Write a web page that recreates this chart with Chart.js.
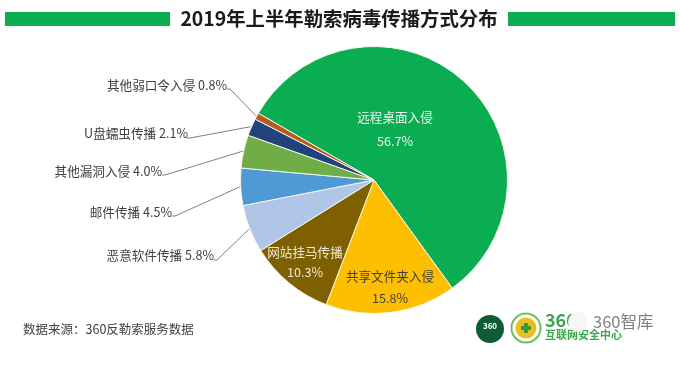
<!DOCTYPE html>
<html><head><meta charset="utf-8">
<script src="https://cdn.jsdelivr.net/npm/chart.js@4"></script>
<style>html,body{margin:0;padding:0;background:#fff}#w{width:680px;height:381px}canvas{display:block;filter:blur(0.4px)}</style>
</head><body><div id="w"><canvas id="c" width="680" height="381"></canvas></div>
<script>
const categories=['远程桌面入侵','共享文件夹入侵','网站挂马传播','恶意软件传播','邮件传播','其他漏洞入侵','U盘蠕虫传播','其他弱口令入侵'];
const shares=[56.7,15.8,10.3,5.8,4.5,4.0,2.1,0.8];
const colors=['#0bad52','#fdbf00','#7f6000','#b0c6e6','#4f9ad6','#70ad47','#22427c','#b85a1e'];
const titleText='2019年上半年勒索病毒传播方式分布';
const sourceText='数据来源：360反勒索服务数据';
const FONT='"Noto Sans CJK SC","Noto Sans",sans-serif';
// label anchors: [textRightX, textY, elbowX, elbowY]
const outside={7:[227,85,230,89],6:[188,133,190,138],5:[162,171,165,175],4:[172,212,175,216],3:[214,255,217,260]};
const inside={0:[395,117,141],1:[390,276,298],2:[305,252,272]};
const deco={id:'deco',
 afterDatasetsDraw(ch){
  const c=ch.ctx,meta=ch.getDatasetMeta(0);
  c.save();
  c.fillStyle='#0bad52';c.fillRect(5,12,165,14);c.fillRect(508,12,167,14);
  c.fillStyle='#1a1a1a';c.font='bold 19.4px '+FONT;c.textAlign='center';c.textBaseline='middle';
  c.fillText(titleText,339,19);
  c.font='12.6px '+FONT;
  categories.forEach((n,i)=>{
   const a=meta.data[i],p=a.getProps(['x','y','startAngle','endAngle','outerRadius']);
   const label=shares[i].toFixed(1)+'%';
   if(outside[i]){
    const o=outside[i],m=(p.startAngle+p.endAngle)/2;
    c.strokeStyle='#7f7f7f';c.lineWidth=1;c.beginPath();
    c.moveTo(p.x+Math.cos(m)*(p.outerRadius+1),p.y+Math.sin(m)*(p.outerRadius+1));
    c.lineTo(o[2],o[3]);c.lineTo(o[2]-3,o[3]);c.stroke();
    c.fillStyle='#404040';c.textAlign='right';c.fillText(n+' '+label,o[0],o[1]);
   }else{
    const o=inside[i];
    c.fillStyle=i===2?'#efe8d4':(i===1?'#404040':'#f2f2f2');c.textAlign='center';
    c.fillText(n,o[0],o[1]);c.fillText(label,o[0],o[2]);
   }
  });
  c.fillStyle='#404040';c.textAlign='left';c.font='12.5px '+FONT;c.fillText(sourceText,23,329);
  // logos
  c.fillStyle='#0e5c33';c.beginPath();c.arc(490,329,14,0,7);c.fill();
  c.fillStyle='#fff';c.font='bold 8px '+FONT;c.textAlign='center';c.fillText('360',490,326);
  c.strokeStyle='#6fbf5a';c.lineWidth=2;c.beginPath();c.arc(526,328,14.5,0,7);c.stroke();
  c.fillStyle='#e8c020';c.beginPath();c.arc(526,328,10.5,0,7);c.fill();
  c.fillStyle='#3a9a3a';c.fillRect(524,323,4,10);c.fillRect(521,326,10,4);
  c.fillStyle='#3aa84a';c.font='bold 18px '+FONT;c.textAlign='left';c.fillText('360',545,320);
  c.font='bold 11px '+FONT;c.fillText('互联网安全中心',545,335);
  c.fillStyle='#f6f6f6';c.beginPath();c.arc(578,322,10,0,7);c.fill();
  c.fillStyle='#808080';c.font='16.5px '+FONT;c.fillText('360智库',593,322);
  c.restore();
 }};
new Chart(document.getElementById('c'),{type:'pie',
 data:{labels:categories,datasets:[{data:shares,backgroundColor:colors,borderColor:'#f4f7ea',borderWidth:1}]},
 options:{responsive:false,animation:false,rotation:-60,
  layout:{padding:{left:240,right:172,top:46,bottom:67}},
  plugins:{legend:{display:false},tooltip:{enabled:false},title:{display:false}}},
 plugins:[deco]});
</script></body></html>
